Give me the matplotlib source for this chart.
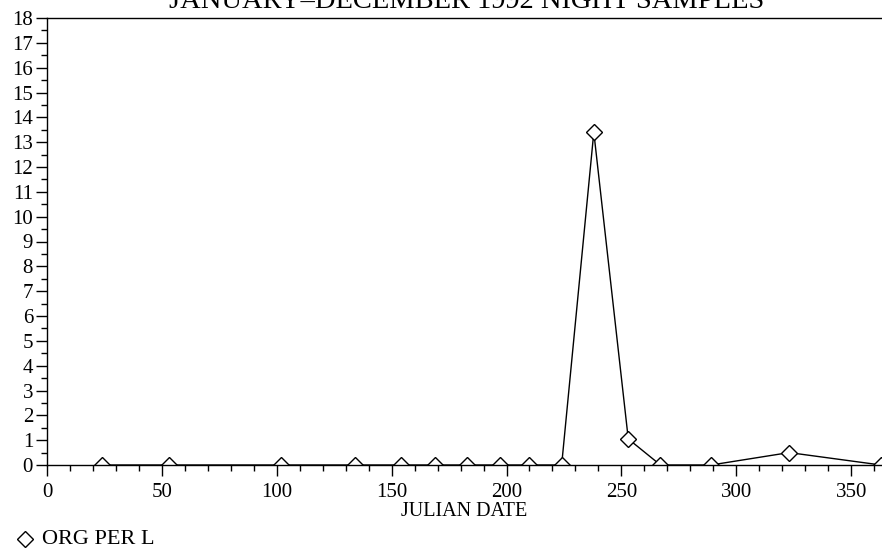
import matplotlib
matplotlib.use("Agg")
import matplotlib.pyplot as plt
from matplotlib.lines import Line2D
from matplotlib.ticker import MultipleLocator

julian_date = [24, 53, 102, 134, 154, 169, 183, 197, 210, 224, 238, 253, 267, 289, 323, 363]
org_per_l   = [0, 0, 0, 0, 0, 0, 0, 0, 0, 0, 13.4, 1.05, 0, 0, 0.5, 0]

title = "JANUARY\u2013DECEMBER 1992 NIGHT SAMPLES"
xlabel = "JULIAN DATE"
legend_label = "ORG PER L"

plt.rcParams['font.family'] = ['Liberation Serif', 'DejaVu Serif']

fig = plt.figure(figsize=(8.82, 5.55), dpi=100)
ax = fig.add_axes([47/882, 1 - 465/555, (881-47)/882, (465-18)/555])

line, = ax.plot(julian_date, org_per_l, color='black', lw=1.0, marker='D', ms=8,
                mfc='white', mec='black', mew=1.0)
line.set_clip_path(ax.patch)

ax.set_xlim(0, 363)
ax.set_ylim(0, 18)
ax.xaxis.set_major_locator(MultipleLocator(50))
ax.xaxis.set_minor_locator(MultipleLocator(10))
ax.yaxis.set_major_locator(MultipleLocator(1))
ax.yaxis.set_minor_locator(MultipleLocator(0.5))
ax.tick_params(axis='both', which='major', direction='out', length=8, width=1,
               labelsize=15, pad=2)
ax.tick_params(axis='both', which='minor', direction='out', length=4, width=1)
ax.tick_params(axis='x', pad=5)
ax.spines['right'].set_visible(False)
for s in ['left', 'bottom', 'top']:
    ax.spines[s].set_linewidth(1.0)

ax.set_xlabel(xlabel, fontsize=14.5, labelpad=0)

fig.text(467/882, 1 - 8/555, title, ha='center', va='baseline', fontsize=20.5)
fig.add_artist(Line2D([25/882], [1 - 539/555], transform=fig.transFigure,
                      marker='D', ms=8, mfc='white', mec='black', mew=1.0, ls='none'))
fig.text(42/882, 1 - 539/555, legend_label, ha='left', va='center', fontsize=16)

fig.savefig("out.png", dpi=100)
